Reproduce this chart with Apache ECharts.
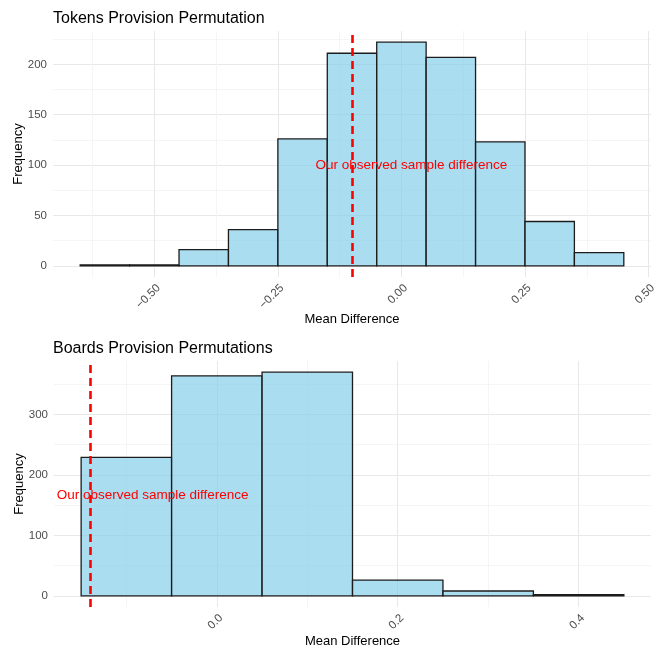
<!DOCTYPE html>
<html>
<head>
<meta charset="utf-8">
<script src="https://cdn.jsdelivr.net/npm/echarts@6/dist/echarts.min.js"></script>
<style>
  html, body { margin: 0; padding: 0; background: #fff; }
  #chart { width: 655px; height: 649px; }
</style>
</head>
<body>
<div id="chart"></div>
<script>
// Permutation distributions of the mean difference (1000 shuffles each)

// Tokens provision: bin edges (width 0.1) and counts
const tokensBinStart = [-0.65, -0.55, -0.45, -0.35, -0.25, -0.15, -0.05, 0.05, 0.15, 0.25, 0.35];
const tokensCounts   = [1, 1, 16, 36, 126, 211, 222, 207, 123, 44, 13];
const tokensObserved = -0.097;
const tokensXTicks = [-0.5, -0.25, 0, 0.25, 0.5];
const tokensXMinor = [-0.625, -0.375, -0.125, 0.125, 0.375];
const tokensYTicks = [0, 50, 100, 150, 200];
const tokensYMinor = [25, 75, 125, 175, 225];
const tokensNote = [0.02, 100];

// Boards provision: bin edges (width 0.1) and counts
const boardsBinStart = [-0.15, -0.05, 0.05, 0.15, 0.25, 0.35];
const boardsCounts   = [229, 364, 370, 26, 8, 2];
const boardsObserved = -0.135;
const boardsXTicks = [0, 0.2, 0.4];
const boardsXMinor = [-0.1, 0.1, 0.3];
const boardsYTicks = [0, 100, 200, 300];
const boardsYMinor = [50, 150, 250, 350];
const boardsNote = [-0.071, 166.5];

const binWidth = 0.1;
const titles = ['Tokens Provision Permutation', 'Boards Provision Permutations'];
const noteText = 'Our observed sample difference';
const xName = 'Mean Difference';
const yName = 'Frequency';

const FONT = '"Liberation Sans", Arial, Helvetica, sans-serif';
const minus = v => String(v).replace('-', '\u2212');

function bins(starts, counts) {
  return starts.map((s, i) => [s, +(s + binWidth).toFixed(2), counts[i]]);
}

// expanded ranges with 5% padding on each side
function expand(lo, hi) {
  const pad = (hi - lo) * 0.05;
  return [lo - pad, hi + pad];
}

const tokXR = expand(tokensBinStart[0], tokensBinStart[tokensBinStart.length - 1] + binWidth);
const tokYR = expand(0, Math.max(...tokensCounts));
const brdXR = expand(boardsBinStart[0], boardsBinStart[boardsBinStart.length - 1] + binWidth);
const brdYR = expand(0, Math.max(...boardsCounts));

function renderBar(params, api) {
  const top = api.coord([api.value(0), api.value(2)]);
  const bot = api.coord([api.value(1), 0]);
  return {
    type: 'rect',
    shape: { x: top[0], y: top[1], width: bot[0] - top[0], height: bot[1] - top[1] },
    style: { fill: 'rgba(135,206,235,0.7)', stroke: '#1c1c1c', lineWidth: 1.3 }
  };
}

function renderNote(params, api) {
  const p = api.coord([api.value(0), api.value(1)]);
  return {
    type: 'text',
    x: p[0], y: p[1],
    style: { text: noteText, fill: '#ff0000', font: '13.5px ' + FONT, align: 'center', verticalAlign: 'middle' }
  };
}

const tickText = { color: '#4d4d4d', fontSize: 11.5, fontFamily: FONT };
const majorLine = { show: true, lineStyle: { color: '#e8e8e8', width: 1 } };
const minorLine = { show: true, lineStyle: { color: '#f2f2f2', width: 0.8 } };

function xMajor(grid, range, ticks, digits, gap) {
  return {
    type: 'value', gridIndex: grid, min: range[0], max: range[1],
    name: xName, nameLocation: 'middle', nameGap: gap, nameMoveOverlap: false,
    nameTextStyle: { color: '#000', fontSize: 13, fontFamily: FONT },
    axisLine: { show: false },
    axisTick: { show: false, customValues: ticks },
    axisLabel: { ...tickText, customValues: ticks, rotate: 45, margin: 5, verticalAlign: 'top',
      padding: [0, 0, 0, 0], formatter: v => minus(v.toFixed(digits)) },
    splitLine: majorLine
  };
}
function xMinor(grid, range, ticks) {
  return {
    type: 'value', gridIndex: grid, min: range[0], max: range[1],
    axisLine: { show: false },
    axisTick: { show: false, customValues: ticks },
    axisLabel: { show: false, customValues: ticks },
    splitLine: minorLine
  };
}
function yMajor(grid, range, ticks) {
  return {
    type: 'value', gridIndex: grid, min: range[0], max: range[1],
    name: yName, nameLocation: 'middle', nameGap: 28, nameMoveOverlap: false,
    nameTextStyle: { color: '#000', fontSize: 13, fontFamily: FONT },
    axisLine: { show: false },
    axisTick: { show: false, customValues: ticks },
    axisLabel: { ...tickText, customValues: ticks, margin: 6 },
    splitLine: majorLine
  };
}
function yMinor(grid, range, ticks) {
  return {
    type: 'value', gridIndex: grid, min: range[0], max: range[1],
    axisLine: { show: false },
    axisTick: { show: false, customValues: ticks },
    axisLabel: { show: false, customValues: ticks },
    splitLine: minorLine
  };
}

function vline(value) {
  return {
    silent: true, symbol: 'none', animation: false,
    label: { show: false },
    lineStyle: { color: '#ff0000', width: 2.6, type: [8, 5], opacity: 1 },
    emphasis: { disabled: true },
    data: [{ xAxis: value }]
  };
}

const chart = echarts.init(document.getElementById('chart'), null, { renderer: 'canvas' });
chart.setOption({
  animation: false,
  backgroundColor: '#ffffff',
  title: [
    { text: titles[0], left: 48, top: 6, textStyle: { color: '#000', fontSize: 16, fontWeight: 'normal', fontFamily: FONT } },
    { text: titles[1], left: 48, top: 336, textStyle: { color: '#000', fontSize: 16, fontWeight: 'normal', fontFamily: FONT } }
  ],
  grid: [
    { left: 53, right: 4, top: 31, height: 246, outerBoundsMode: 'none', containLabel: false },
    { left: 54, right: 4, top: 361, height: 246, outerBoundsMode: 'none', containLabel: false }
  ],
  xAxis: [
    xMajor(0, tokXR, tokensXTicks, 2, 36),
    xMajor(1, brdXR, boardsXTicks, 1, 28),
    xMinor(0, tokXR, tokensXMinor),
    xMinor(1, brdXR, boardsXMinor)
  ],
  yAxis: [
    yMajor(0, tokYR, tokensYTicks),
    yMajor(1, brdYR, boardsYTicks),
    yMinor(0, tokYR, tokensYMinor),
    yMinor(1, brdYR, boardsYMinor)
  ],
  series: [
    {
      type: 'custom', xAxisIndex: 0, yAxisIndex: 0,
      renderItem: renderBar, encode: { x: [0, 1], y: 2 },
      data: bins(tokensBinStart, tokensCounts),
      markLine: vline(tokensObserved)
    },
    {
      type: 'custom', xAxisIndex: 0, yAxisIndex: 0, z: 5,
      renderItem: renderNote, encode: { x: 0, y: 1 },
      data: [tokensNote]
    },
    {
      type: 'custom', xAxisIndex: 1, yAxisIndex: 1,
      renderItem: renderBar, encode: { x: [0, 1], y: 2 },
      data: bins(boardsBinStart, boardsCounts),
      markLine: vline(boardsObserved)
    },
    {
      type: 'custom', xAxisIndex: 1, yAxisIndex: 1, z: 5,
      renderItem: renderNote, encode: { x: 0, y: 1 },
      data: [boardsNote]
    }
  ]
});
</script>
</body>
</html>
